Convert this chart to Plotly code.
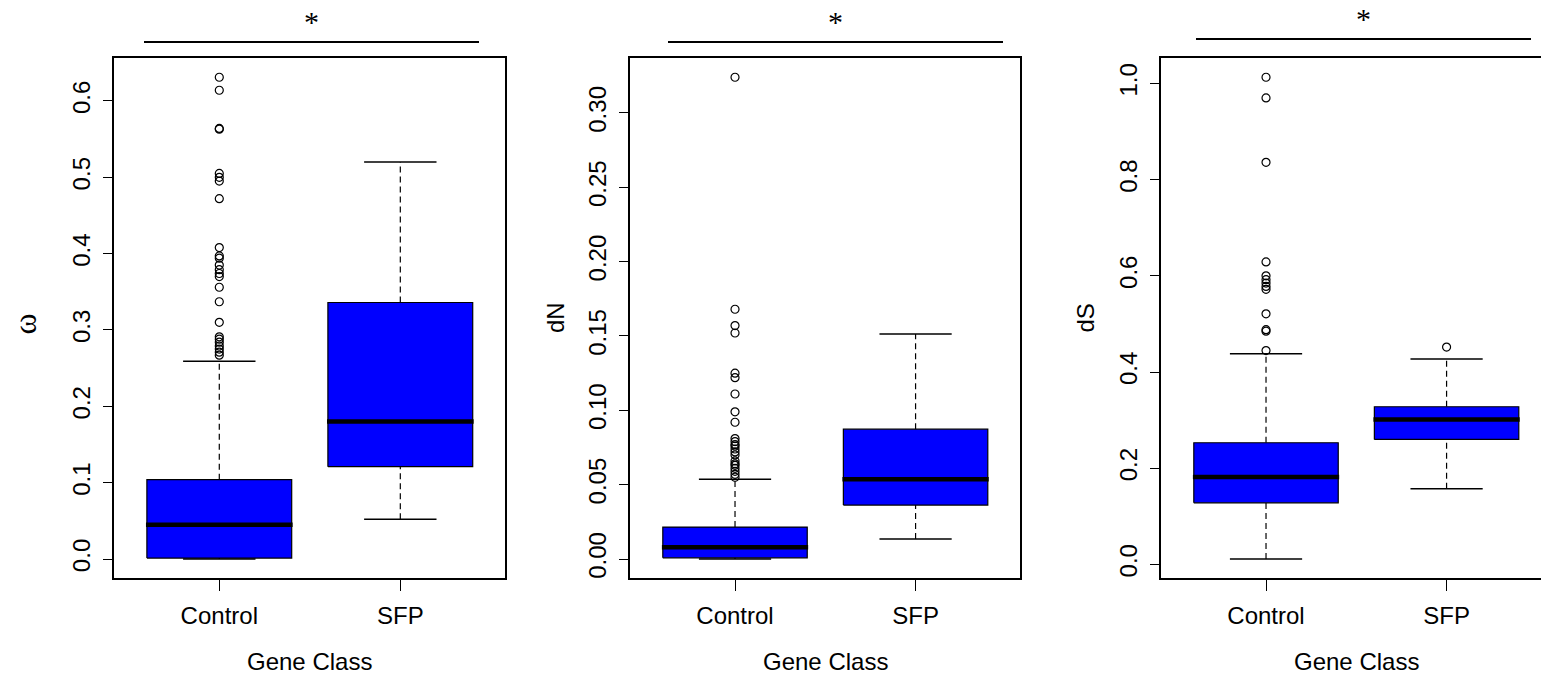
import plotly.graph_objects as go

# ---------------- data ----------------
categories = ["Control", "SFP"]
positions = [1, 2]

# stats: lower whisker, Q1, median, Q3, upper whisker
omega_control = [0.0, 0.0013, 0.045, 0.104, 0.259]
omega_sfp = [0.052, 0.121, 0.180, 0.336, 0.520]
omega_control_out = [0.631, 0.614, 0.564, 0.563, 0.505, 0.500, 0.495, 0.472,
                     0.408, 0.397, 0.394, 0.385, 0.379, 0.374, 0.370, 0.356,
                     0.337, 0.310, 0.291, 0.288, 0.284, 0.279, 0.275, 0.271, 0.267]
omega_sfp_out = []

dn_control = [0.0, 0.0008, 0.008, 0.0215, 0.0536]
dn_sfp = [0.0135, 0.0363, 0.0536, 0.0873, 0.1514]
dn_control_out = [0.324, 0.168, 0.157, 0.152, 0.125, 0.122, 0.111, 0.099, 0.092,
                  0.081, 0.079, 0.077, 0.076, 0.074, 0.072, 0.070, 0.066, 0.064,
                  0.063, 0.061, 0.059, 0.057, 0.055]
dn_sfp_out = []

ds_control = [0.011, 0.128, 0.1815, 0.2528, 0.4378]
ds_sfp = [0.157, 0.2598, 0.3014, 0.3277, 0.4268]
ds_control_out = [1.013, 0.970, 0.836, 0.629, 0.600, 0.592, 0.585, 0.578, 0.572,
                  0.521, 0.488, 0.485, 0.4445]
ds_sfp_out = [0.4518]

y_titles = ["ω", "dN", "dS"]
x_title = "Gene Class"
omega_ticks = [0.0, 0.1, 0.2, 0.3, 0.4, 0.5, 0.6]
dn_ticks = [0.00, 0.05, 0.10, 0.15, 0.20, 0.25, 0.30]
ds_ticks = [0.0, 0.2, 0.4, 0.6, 0.8, 1.0]
significance = ["*", "*", "*"]

# ---------------- layout helpers ----------------
W, H = 1541, 678
def fx(px):
    return px / W
def fy(py):
    return 1 - py / H

FONT = "Liberation Sans, Arial, sans-serif"
SERIF = "Liberation Serif, Times New Roman, serif"
BLUE = "#0000FF"
PX_PER_UNIT = 390 / 2.16

panels = [
    dict(stats=[omega_control, omega_sfp], outs=[omega_control_out, omega_sfp_out],
         ticks=omega_ticks, fmt=".1f", dom=(114.3, 505.3), xr=[0.42, 2.58], mirror=True,
         ytitle_px=(24.5, 324), ytitle_font=SERIF, ytitle_size=32, center=309.8,
         sig_line=(144, 479, 42), star=(311.5, 17)),
    dict(stats=[dn_control, dn_sfp], outs=[dn_control_out, dn_sfp_out],
         ticks=dn_ticks, fmt=".2f", dom=(630.3, 1020.3), xr=[0.42, 2.58], mirror=True,
         ytitle_px=(555, 318), ytitle_font=FONT, ytitle_size=24, center=825.3,
         sig_line=(668, 1003, 42), star=(835.5, 17)),
    dict(stats=[ds_control, ds_sfp], outs=[ds_control_out, ds_sfp_out],
         ticks=ds_ticks, fmt=".1f", dom=(1161.3, W),
         xr=[0.42, 0.42 + (W - 1161.3) / PX_PER_UNIT], mirror=False,
         ytitle_px=(1084.5, 318), ytitle_font=FONT, ytitle_size=24, center=1356.3,
         sig_line=(1196, 1531, 39), star=(1363.5, 14)),
]

fig = go.Figure()
layout = dict(width=W, height=H, margin=dict(l=0, r=0, t=0, b=0),
              paper_bgcolor="white", plot_bgcolor="white", showlegend=False,
              font=dict(family=FONT, size=24, color="black"))
annotations = []
shapes = []

for i, p in enumerate(panels):
    sfx = "" if i == 0 else str(i + 1)
    xa, ya = "x" + sfx, "y" + sfx
    allv = []
    for st, out in zip(p["stats"], p["outs"]):
        allv += st + out
    lo, hi = min(allv), max(allv)
    pad = 0.04 * (hi - lo)

    for pos, st, out in zip(positions, p["stats"], p["outs"]):
        lw, q1, med, q3, uw = st
        # dashed whiskers
        for a, b in [(q3, uw), (lw, q1)]:
            fig.add_trace(go.Scatter(x=[pos, pos], y=[a, b], mode="lines", xaxis=xa, yaxis=ya,
                                     line=dict(color="black", width=1.2, dash="6px,4px"),
                                     hoverinfo="skip"))
        # caps
        for v in [lw, uw]:
            fig.add_trace(go.Scatter(x=[pos - 0.2, pos + 0.2], y=[v, v], mode="lines",
                                     xaxis=xa, yaxis=ya,
                                     line=dict(color="black", width=1.5), hoverinfo="skip"))
        # box body
        fig.add_trace(go.Scatter(x=[pos - 0.4, pos + 0.4, pos + 0.4, pos - 0.4, pos - 0.4],
                                 y=[q1, q1, q3, q3, q1], mode="lines", fill="toself",
                                 fillcolor=BLUE, xaxis=xa, yaxis=ya,
                                 line=dict(color="black", width=1.2), hoverinfo="skip"))
        # median
        fig.add_trace(go.Scatter(x=[pos - 0.405, pos + 0.405], y=[med, med], mode="lines",
                                 xaxis=xa, yaxis=ya,
                                 line=dict(color="black", width=4.5), hoverinfo="skip"))
        # outliers
        if out:
            fig.add_trace(go.Scatter(x=[pos] * len(out), y=out, mode="markers",
                                     xaxis=xa, yaxis=ya,
                                     marker=dict(symbol="circle-open", size=8,
                                                 color="black", line=dict(width=1.2)),
                                     hoverinfo="skip"))

    layout["xaxis" + sfx] = dict(domain=[fx(p["dom"][0]), fx(p["dom"][1])], range=p["xr"],
                                 anchor=ya, tickmode="array", tickvals=positions,
                                 ticktext=categories, ticks="outside", ticklen=11,
                                 tickwidth=1.2, tickcolor="black", showline=True,
                                 linecolor="black", linewidth=1.5, mirror=True,
                                 showgrid=False, zeroline=False, ticklabelstandoff=4,
                                 tickfont=dict(family=FONT, size=24, color="black"))
    layout["yaxis" + sfx] = dict(domain=[fy(578.3), fy(58)], range=[lo - pad, hi + pad],
                                 anchor=xa, tickmode="array", tickvals=p["ticks"],
                                 ticktext=[format(t, p["fmt"]) for t in p["ticks"]],
                                 tickangle=-90, ticks="outside", ticklen=10,
                                 tickwidth=1.2, tickcolor="black", showline=True,
                                 linecolor="black", linewidth=1.5, mirror=p["mirror"],
                                 showgrid=False, zeroline=False, ticklabelstandoff=3,
                                 tickfont=dict(family=FONT, size=24, color="black"))
    # y title
    annotations.append(dict(x=fx(p["ytitle_px"][0]), y=fy(p["ytitle_px"][1]),
                            xref="paper", yref="paper", text=y_titles[i], textangle=-90,
                            showarrow=False, xanchor="center", yanchor="middle",
                            font=dict(family=p["ytitle_font"], size=p["ytitle_size"],
                                      color="black")))
    # x title
    annotations.append(dict(x=fx(p["center"]), y=fy(661.7), xref="paper", yref="paper",
                            text=x_title, showarrow=False, xanchor="center",
                            yanchor="middle",
                            font=dict(family=FONT, size=24, color="black")))
    # significance bar and star
    x0, x1, yl = p["sig_line"]
    shapes.append(dict(type="line", xref="paper", yref="paper", x0=fx(x0), x1=fx(x1),
                       y0=fy(yl), y1=fy(yl), line=dict(color="black", width=2.2)))
    annotations.append(dict(x=fx(p["star"][0]), y=fy(p["star"][1] + 4), xref="paper",
                            yref="paper", text=significance[i], showarrow=False,
                            xanchor="center", yanchor="middle",
                            font=dict(family=SERIF, size=30, color="black")))

layout["annotations"] = annotations
layout["shapes"] = shapes
fig.update_layout(**layout)
# remove the browser's default 8px body margin so the figure fills the window exactly
fig.write_html("out.html", config={"displayModeBar": False},
               post_script="document.body.style.margin='0px';")
